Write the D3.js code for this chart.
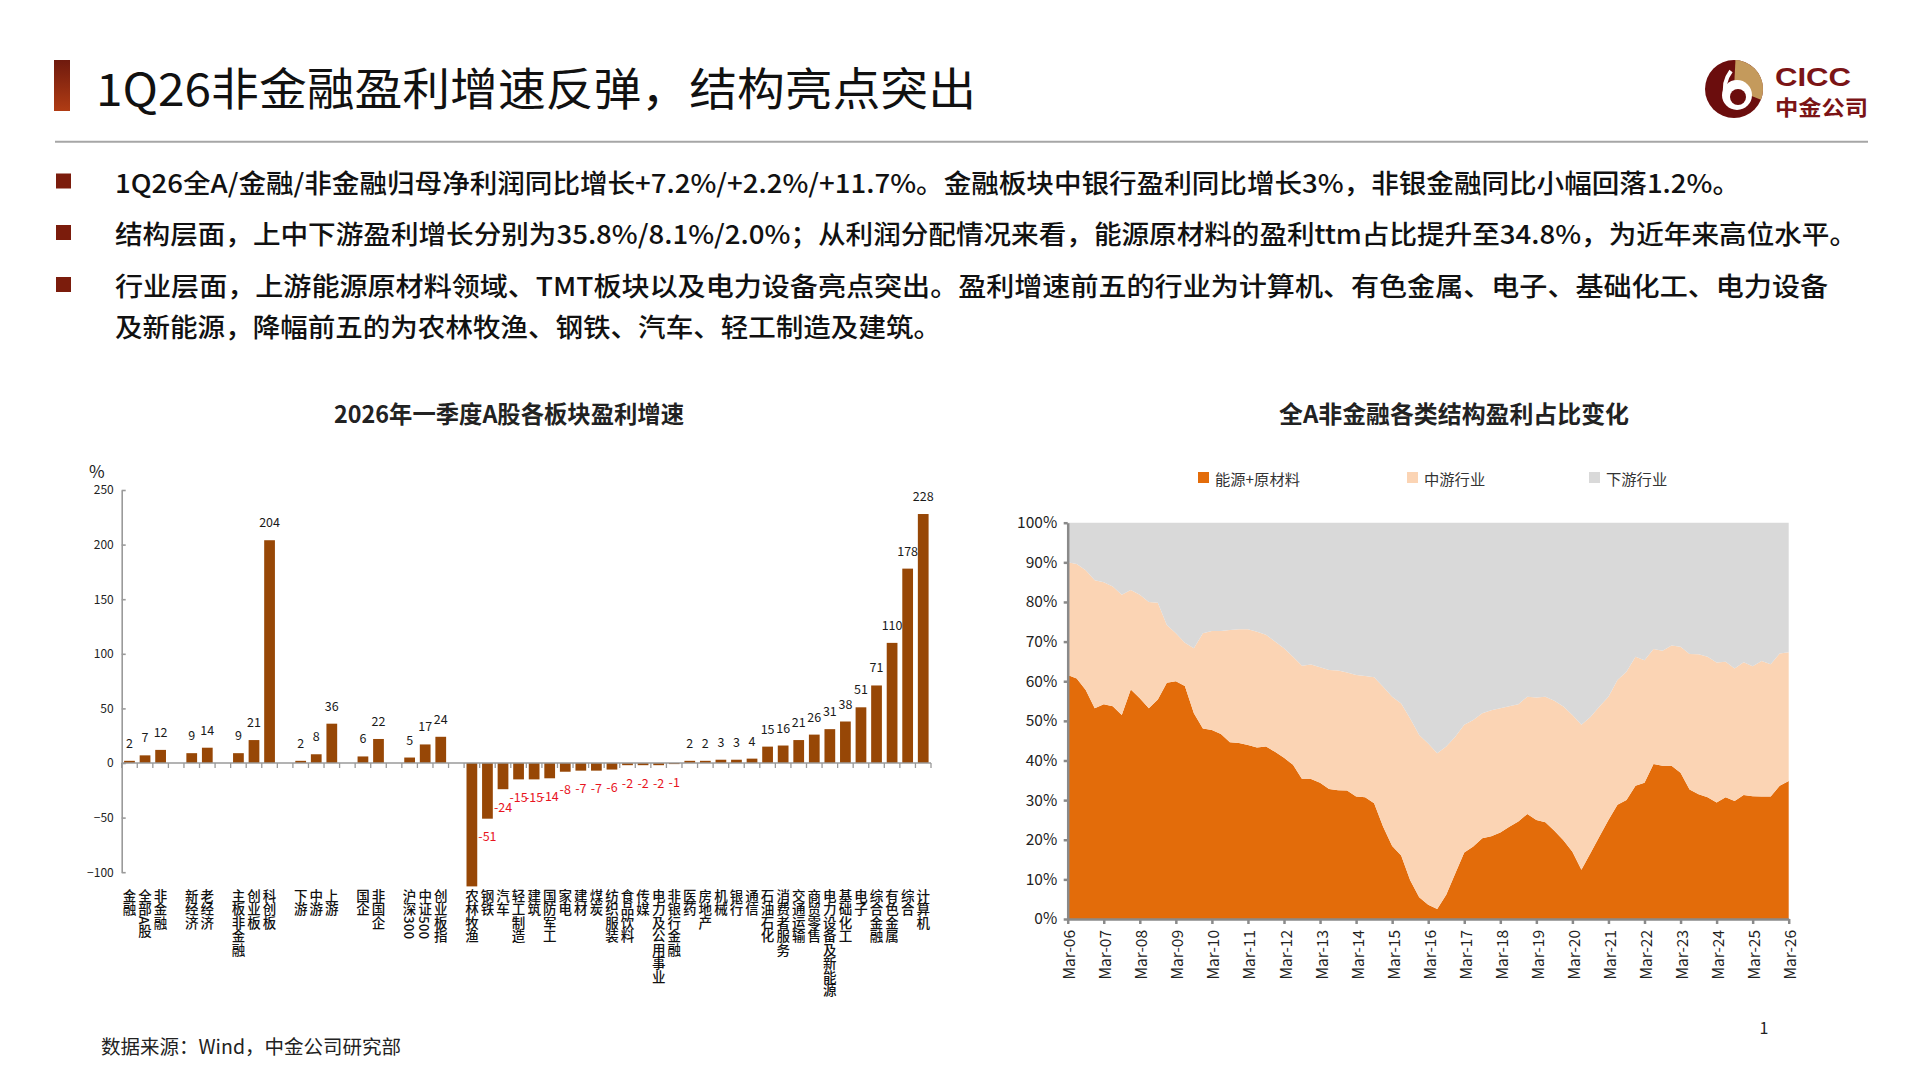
<!DOCTYPE html>
<html><head><meta charset="utf-8">
<script src="https://cdn.jsdelivr.net/npm/d3@7"></script>
<style>
html,body{margin:0;padding:0;background:#fff;}
svg{display:block;font-family:"Noto Sans CJK SC","Noto Sans",sans-serif;}
</style></head><body>
<svg id="c" width="1916" height="1077"></svg>
<script>
// ---------- header text ----------
const pageTitle = "1Q26非金融盈利增速反弹，结构亮点突出";
const bulletLines = [
  "1Q26全A/金融/非金融归母净利润同比增长+7.2%/+2.2%/+11.7%。金融板块中银行盈利同比增长3%，非银金融同比小幅回落1.2%。",
  "结构层面，上中下游盈利增长分别为35.8%/8.1%/2.0%；从利润分配情况来看，能源原材料的盈利ttm占比提升至34.8%，为近年来高位水平。",
  "行业层面，上游能源原材料领域、TMT板块以及电力设备亮点突出。盈利增速前五的行业为计算机、有色金属、电子、基础化工、电力设备",
  "及新能源，降幅前五的为农林牧渔、钢铁、汽车、轻工制造及建筑。"
];
const bulletMarks = [true, true, true, false];
const sourceNote = "数据来源：Wind，中金公司研究部";

// ---------- left chart data ----------
const leftTitle = "2026年一季度A股各板块盈利增速";
const summaryCats = ["金融","全部A股","非金融","","新经济","老经济","","主板非金融","创业板","科创板","","下游","中游","上游","","国企","非国企","","沪深300","中证500","创业板指",""];
const summaryVals = [2,7,12,null,9,14,null,9,21,204,null,2,8,36,null,6,22,null,5,17,24,null];
const industryCats = ["农林牧渔","钢铁","汽车","轻工制造","建筑","国防军工","家电","建材","煤炭","纺织服装","食品饮料","传媒","电力及公用事业","非银行金融","医药","房地产","机械","银行","通信","石油石化","消费者服务","交通运输","商贸零售","电力设备及新能源","基础化工","电子","综合金融","有色金属","综合","计算机"];
const industryVals = [-113,-51,-24,-15,-15,-14,-8,-7,-7,-6,-2,-2,-2,-1,2,2,3,3,4,15,16,21,26,31,38,51,71,110,178,228];
const leftTicks = [-100,-50,0,50,100,150,200,250];

// ---------- right chart data ----------
const rightTitle = "全A非金融各类结构盈利占比变化";
const seriesNames = ["能源+原材料","中游行业","下游行业"];
const yearTicks = ["Mar-06","Mar-07","Mar-08","Mar-09","Mar-10","Mar-11","Mar-12","Mar-13","Mar-14","Mar-15","Mar-16","Mar-17","Mar-18","Mar-19","Mar-20","Mar-21","Mar-22","Mar-23","Mar-24","Mar-25","Mar-26"];
const energyShare = [61.6,60.7,57.8,53.2,54.2,53.7,51.5,57.9,55.7,53.2,
  55.4,59.6,60.0,58.8,51.9,48.1,47.7,46.7,44.6,44.4,
  43.9,43.3,43.5,42.2,40.7,38.9,35.3,35.3,34.4,32.8,
  32.5,32.4,30.9,30.7,29.2,23.3,18.4,16.0,9.8,5.5,
  3.6,2.5,6.1,11.5,16.8,18.3,20.4,20.9,21.8,23.3,
  24.6,26.5,25.0,24.4,22.3,19.9,17.0,12.4,16.6,20.8,
  25.0,28.8,30.0,33.6,34.4,39.1,38.7,38.7,36.9,32.7,
  31.5,30.7,29.4,30.7,29.8,31.3,31.0,30.9,30.9,33.6,
  34.8];
const midShare = [28.4,28.9,30.2,32.3,30.8,30.2,30.3,25.1,26.1,26.8,
  24.4,14.6,12.1,10.9,16.4,24.0,25.0,26.0,28.3,28.7,
  29.2,29.2,28.2,27.8,27.6,27.3,28.6,28.9,29.1,30.0,
  30.2,29.8,30.7,30.6,31.8,35.3,37.7,38.4,40.8,40.9,
  40.7,39.3,37.4,34.5,32.2,31.9,31.5,31.8,31.4,30.4,
  29.6,29.6,30.9,31.7,32.8,33.7,34.5,36.6,34.4,32.8,
  31.1,31.5,32.4,32.6,30.9,29.0,29.0,30.3,31.8,34.2,
  35.3,35.5,35.3,34.2,33.4,33.5,32.8,34.2,33.4,33.4,
  32.5];
const downShare = [10.0,10.4,12.0,14.5,15.0,16.1,18.2,17.0,18.2,20.0,
  20.2,25.8,27.9,30.3,31.7,27.9,27.3,27.3,27.1,26.9,
  26.9,27.5,28.3,30.0,31.7,33.8,36.1,35.8,36.5,37.2,
  37.3,37.8,38.4,38.7,39.0,41.4,43.9,45.6,49.4,53.6,
  55.7,58.2,56.5,54.0,51.0,49.8,48.1,47.3,46.8,46.3,
  45.8,43.9,44.1,43.9,44.9,46.4,48.5,51.0,49.0,46.4,
  43.9,39.7,37.6,33.8,34.7,31.9,32.3,31.0,31.3,33.1,
  33.2,33.8,35.3,35.1,36.8,35.2,36.2,34.9,35.7,33.0,
  32.7];
const rightTicks = [0,10,20,30,40,50,60,70,80,90,100];

const svg = d3.select("#c");

// ================= HEADER =================
const defs = svg.append("defs");
const g1 = defs.append("linearGradient").attr("id","tbar").attr("x1",0).attr("y1",0).attr("x2",0).attr("y2",1);
g1.append("stop").attr("offset","0%").attr("stop-color","#6f1a0e");
g1.append("stop").attr("offset","100%").attr("stop-color","#b03c14");
svg.append("rect").attr("x",54).attr("y",60).attr("width",16).attr("height",51).attr("fill","url(#tbar)");
svg.append("text").attr("x",96).attr("y",86).attr("dominant-baseline","central")
  .attr("font-size",45).attr("fill","#111").attr("textLength",880).attr("lengthAdjust","spacingAndGlyphs")
  .text(pageTitle);
svg.append("line").attr("x1",55).attr("x2",1868).attr("y1",141.7).attr("y2",141.7)
  .attr("stroke","#a6a6a6").attr("stroke-width",2);

// logo
const logo = svg.append("g").attr("transform","translate(1734,89)");
logo.append("circle").attr("r",29).attr("fill","#6b0d0d");
logo.append("path").attr("d", d3.arc()({innerRadius:0, outerRadius:29, startAngle:0.05, endAngle:1.95})).attr("fill","#c49a5c");
logo.append("circle").attr("cx",3).attr("cy",6).attr("r",15).attr("fill","#fff");
logo.append("circle").attr("cx",4).attr("cy",8).attr("r",8).attr("fill","#6b0d0d");
logo.append("path").attr("d","M-3,-18 Q-12,-6 -8,8").attr("stroke","#fff").attr("stroke-width",4).attr("fill","none");
svg.append("text").attr("x",1775).attr("y",86).attr("font-size",25).attr("font-weight",700)
  .attr("font-family","Liberation Sans, Arial, sans-serif")
  .attr("fill","#7b1416").attr("textLength",76).attr("lengthAdjust","spacingAndGlyphs").text("CICC");
svg.append("text").attr("x",1775).attr("y",114.5).attr("font-size",21).attr("font-weight",700)
  .attr("fill","#7b1416").attr("textLength",93).attr("lengthAdjust","spacingAndGlyphs").text("中金公司");

// bullets
const lineY = [181, 232.5, 284.5, 325.5];
const lineW = [1625, 1742, 1713, 826];
bulletLines.forEach((t,i)=>{
  if (bulletMarks[i]) svg.append("rect").attr("x",56).attr("y",lineY[i]-7.5).attr("width",15).attr("height",15).attr("fill","#7b1c0c");
  svg.append("text").attr("x",115).attr("y",lineY[i]).attr("dominant-baseline","central")
    .attr("font-size",26).attr("font-weight",500).attr("fill","#111").attr("textLength",lineW[i]).attr("lengthAdjust","spacingAndGlyphs").text(t);
});

// footer
svg.append("text").attr("x",101).attr("y",1045).attr("dominant-baseline","central").attr("font-size",19.5).attr("fill","#222").text(sourceNote);
svg.append("text").attr("x",1764).attr("y",1027).attr("dominant-baseline","central").attr("text-anchor","middle").attr("font-size",16).attr("fill","#222").text("1");

// ================= LEFT CHART =================
const leftCats = summaryCats.concat(industryCats);
const leftVals = summaryVals.concat(industryVals);
const idx = d3.range(leftCats.length);
const xb = d3.scaleBand().domain(idx).range([121.7, 931]).paddingInner(0.31).paddingOuter(0.155);
const yb = d3.scaleLinear().domain([-100,250]).range([872.2,490]);
const L = svg.append("g");

L.append("text").attr("x",509).attr("y",413).attr("dominant-baseline","central").attr("text-anchor","middle")
  .attr("font-size",23.5).attr("font-weight",700).attr("fill","#222")
  .attr("textLength",350).attr("lengthAdjust","spacingAndGlyphs").text(leftTitle);
L.append("text").attr("x",89).attr("y",470).attr("dominant-baseline","central").attr("font-size",17).attr("fill","#222").text("%");

const yAx = L.append("g").attr("transform","translate(121.7,0)")
  .call(d3.axisLeft(yb).tickValues(leftTicks).tickSizeInner(-4).tickSizeOuter(0).tickPadding(8));
yAx.selectAll("path,line").attr("stroke","#9a9a9a").attr("stroke-width",1.6);
yAx.selectAll("text").attr("font-size",12).attr("fill","#222").attr("font-family","Noto Sans CJK SC");

// bars
L.selectAll("rect.bar").data(idx.filter(i=>leftVals[i]!==null)).join("rect").attr("class","bar")
  .attr("x",i=>xb(i)).attr("width",xb.bandwidth())
  .attr("y",i=>Math.min(yb(leftVals[i]),yb(0))).attr("height",i=>Math.abs(yb(leftVals[i])-yb(0)))
  .attr("fill","#974706");

// x axis line + boundary ticks
const y0 = yb(0);
L.append("line").attr("x1",xb.range()[0]).attr("x2",xb.range()[1]).attr("y1",y0).attr("y2",y0)
  .attr("stroke","#9a9a9a").attr("stroke-width",1.6);
L.selectAll("line.tk").data(d3.range(leftCats.length+1)).join("line").attr("class","tk")
  .attr("x1",k=>xb.range()[0]+k*xb.step()).attr("x2",k=>xb.range()[0]+k*xb.step())
  .attr("y1",y0).attr("y2",y0+5).attr("stroke","#9a9a9a").attr("stroke-width",1.3);

// value labels
L.selectAll("text.vl").data(idx.filter(i=>leftVals[i]!==null && leftVals[i]>=yb.domain()[0])).join("text").attr("class","vl")
  .attr("x",i=>xb(i)+xb.bandwidth()/2)
  .attr("y",i=>leftVals[i]>=0 ? yb(leftVals[i])-13 : yb(leftVals[i])+22.5)
  .attr("text-anchor","middle").attr("font-size",12.5)
  .attr("fill",i=>leftVals[i]>=0 ? "#1a1a1a" : "#e8141e")
  .text(i=>leftVals[i]);

// category labels (vertical)
L.selectAll("text.cat").data(idx.filter(i=>leftCats[i]!=="")).join("text").attr("class","cat")
  .attr("x",i=>xb(i)+xb.bandwidth()/2).attr("y",889)
  .style("writing-mode","vertical-rl").style("text-orientation","mixed")
  .attr("font-size",13.5).attr("font-weight",500).attr("fill","#111")
  .text(i=>leftCats[i]);

// ================= RIGHT CHART =================
const R = svg.append("g");
R.append("text").attr("x",1454).attr("y",413).attr("dominant-baseline","central").attr("text-anchor","middle")
  .attr("font-size",23.5).attr("font-weight",700).attr("fill","#222")
  .attr("textLength",350).attr("lengthAdjust","spacingAndGlyphs").text(rightTitle);

const colors = ["#e36c0a","#fbd4b4","#d9d9d9"];
const legX = [1198,1407,1589];
seriesNames.forEach((n,i)=>{
  R.append("rect").attr("x",legX[i]).attr("y",472).attr("width",11).attr("height",11).attr("fill",colors[i]);
  R.append("text").attr("x",legX[i]+17).attr("y",477.5).attr("dominant-baseline","central").attr("font-size",15.3).attr("fill","#333").text(n);
});

const rows = energyShare.map((e,i)=>({i:i, energy:e, mid:midShare[i], down:downShare[i]}));
const stacked = d3.stack().keys(["energy","mid","down"])(rows);
const xr = d3.scaleLinear().domain([0, energyShare.length-1]).range([1067.7, 1788.7]);
const yr = d3.scaleLinear().domain([0,100]).range([919, 522.7]);
const area = d3.area().x(d=>xr(d.data.i)).y0(d=>yr(d[0])).y1(d=>yr(d[1]));
R.selectAll("path.layer").data(stacked).join("path").attr("class","layer")
  .attr("d",area).attr("fill",(d,i)=>colors[i]);

const yAxR = R.append("g").attr("transform","translate(1067.7,0)")
  .call(d3.axisLeft(yr).tickValues(rightTicks).tickFormat(d=>d+"%").tickSizeInner(4).tickSizeOuter(0).tickPadding(6.5));
yAxR.selectAll("path,line").attr("stroke","#8a8a8a").attr("stroke-width",2.5);
yAxR.selectAll("text").attr("font-size",15.5).attr("fill","#222").attr("font-family","Noto Sans CJK SC");

const qTicks = d3.range(0, energyShare.length, 4);
const xAxR = R.append("g").attr("transform","translate(0,919)")
  .call(d3.axisBottom(xr).tickValues(qTicks).tickFormat((d,k)=>yearTicks[k]).tickSizeInner(5).tickSizeOuter(0).tickPadding(4));
xAxR.selectAll("path,line").attr("stroke","#8a8a8a").attr("stroke-width",2.5);
xAxR.selectAll("text").attr("font-size",15.5).attr("fill","#222").attr("font-family","Noto Sans CJK SC")
  .attr("text-anchor","end").attr("dominant-baseline","central")
  .attr("transform","translate(0,11) rotate(-90)").attr("x",0).attr("y",0).attr("dy",null);
</script>
</body></html>
